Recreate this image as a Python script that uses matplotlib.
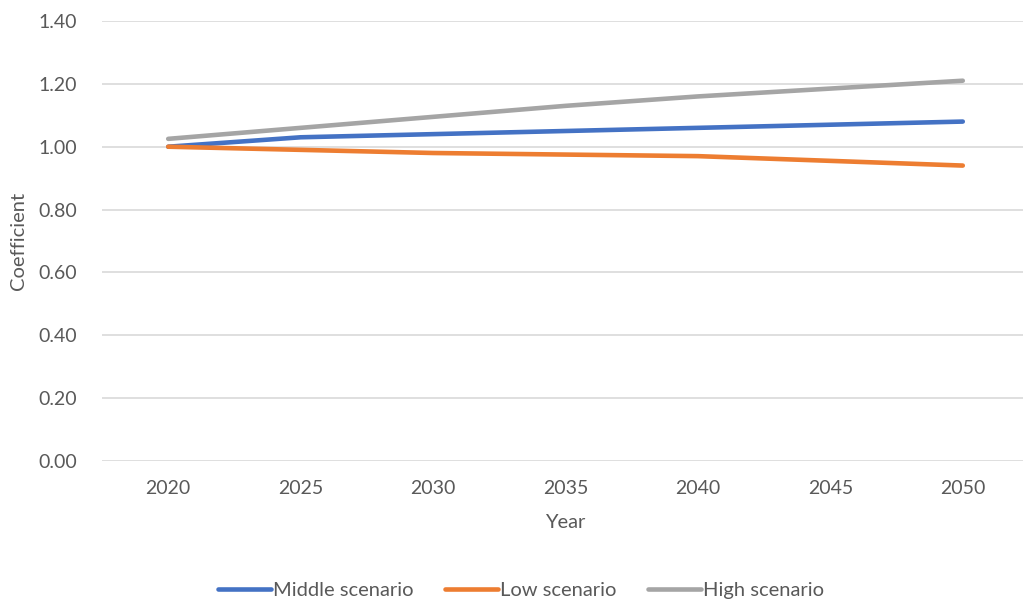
import matplotlib.pyplot as plt

plt.rcParams['font.family'] = ['Lato', 'DejaVu Sans']

# coefficient projections per scenario
years = ['2020', '2025', '2030', '2035', '2040', '2045', '2050']
middle = [1.00, 1.03, 1.04, 1.05, 1.06, 1.07, 1.08]
low = [1.00, 0.99, 0.98, 0.975, 0.97, 0.955, 0.94]
high = [1.025, 1.06, 1.095, 1.13, 1.16, 1.185, 1.21]

text_col = '#595959'

fig = plt.figure(figsize=(10.23, 6.03), dpi=100)
ax = fig.add_axes([102 / 1023, 142 / 603, 927 / 1023, 440 / 603])

x = range(len(years))
ax.plot(x, middle, color='#4472C4', lw=3.3, solid_capstyle='round', label='Middle scenario')
ax.plot(x, low, color='#ED7D31', lw=3.3, solid_capstyle='round', label='Low scenario')
ax.plot(x, high, color='#A5A5A5', lw=3.3, solid_capstyle='round', label='High scenario')

ax.set_xlim(-0.5, len(years) - 0.5)
ax.set_ylim(0, 1.4)
ax.set_xticks(list(x))
ax.set_xticklabels(years)
ax.set_yticks([i * 0.2 for i in range(8)])
ax.yaxis.set_major_formatter(plt.FormatStrFormatter('%.2f'))
ax.grid(axis='y', color='#D9D9D9', lw=1.2)
ax.set_axisbelow(True)
for s in ax.spines.values():
    s.set_visible(False)
ax.tick_params(length=0, labelsize=14, colors=text_col, pad=18)
ax.tick_params(axis='x', pad=14)

ax.set_xlabel('Year', fontsize=14.5, color=text_col, labelpad=12)
ax.set_ylabel('Coefficient', fontsize=14.5, color=text_col, labelpad=8)

fig.legend(loc='center', bbox_to_anchor=(521 / 1023, 1 - 590 / 603), ncol=3,
           frameon=False, fontsize=14.5, handlelength=2.6, handletextpad=0.1,
           columnspacing=1.6, labelcolor=text_col)

fig.savefig('out.png', dpi=100)
